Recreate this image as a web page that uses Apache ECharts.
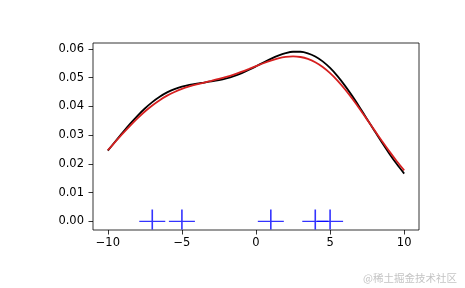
<!DOCTYPE html>
<html><head><meta charset="utf-8">
<script src="https://cdn.jsdelivr.net/npm/echarts@6/dist/echarts.min.js"></script>
<style>html,body{margin:0;padding:0;background:#fff}#c{width:465px;height:288px}</style>
</head><body><div id="c"></div>
<script>
// x positions of curve samples
const xs = [-10,-9.5,-9,-8.5,-8,-7.5,-7,-6.5,-6,-5.5,-5,-4.5,-4,-3.5,-3,-2.5,-2,-1.5,-1,-0.5,0,0.5,1,1.5,2,2.5,3,3.5,4,4.5,5,5.5,6,6.5,7,7.5,8,8.5,9,9.5,10];
// black curve values
const blackY = [0.02463,0.02780,0.03092,0.03393,0.03675,0.03929,0.04151,0.04338,0.04488,0.04604,0.04689,0.04750,0.04795,0.04831,0.04869,0.04915,0.04976,0.05054,0.05152,0.05268,0.05395,0.05528,0.05656,0.05768,0.05853,0.05901,0.05902,0.05849,0.05738,0.05567,0.05338,0.05055,0.04725,0.04359,0.03966,0.03558,0.03148,0.02744,0.02358,0.01996,0.01665];
// red curve values
const redY = [0.02476,0.02766,0.03052,0.03327,0.03585,0.03823,0.04035,0.04219,0.04375,0.04504,0.04609,0.04694,0.04766,0.04829,0.04891,0.04955,0.05027,0.05108,0.05199,0.05298,0.05401,0.05503,0.05596,0.05672,0.05723,0.05741,0.05719,0.05652,0.05536,0.05370,0.05156,0.04896,0.04597,0.04266,0.03912,0.03542,0.03168,0.02797,0.02437,0.02096,0.01779];
// sample points shown as + markers at y=0
const pts = [-7,-5,1,4,5];
const xTicks = [-10,-5,0,5,10];
const yTicks = [0,0.01,0.02,0.03,0.04,0.05,0.06];

const zip = (a,b)=>a.map((v,i)=>[v,b[i]]);
const font = 'DejaVu Sans';
const chart = echarts.init(document.getElementById('c'));
chart.setOption({
  animation:false,
  backgroundColor:'#fff',
  grid:{left:93,right:46,top:43,bottom:58,show:true,borderColor:'#000',borderWidth:0.8,backgroundColor:'transparent'},
  xAxis:{type:'value',min:-11,max:11,
    axisLine:{show:false,onZero:false},splitLine:{show:false},
    axisTick:{show:true,inside:false,length:4.5,lineStyle:{color:'#000',width:0.8},customValues:xTicks},
    axisLabel:{color:'#000',fontFamily:font,fontSize:11.5,margin:7,customValues:xTicks,
      formatter:v=>String(v).replace('-','\u2212')}},
  yAxis:{type:'value',min:-0.00296,max:0.06206,
    axisLine:{show:false,onZero:false},splitLine:{show:false},
    axisTick:{show:true,inside:false,length:4.5,lineStyle:{color:'#000',width:0.8},customValues:yTicks},
    axisLabel:{color:'#000',fontFamily:font,fontSize:11.5,margin:9,customValues:yTicks,
      formatter:v=>v.toFixed(2)}},
  series:[
    {type:'line',data:zip(xs,blackY),smooth:0.3,showSymbol:false,lineStyle:{color:'#000',width:1.8},z:2},
    {type:'line',data:zip(xs,redY),smooth:0.3,showSymbol:false,lineStyle:{color:'#d62020',width:1.8},z:3},
    {type:'scatter',data:pts.map(p=>[p,0]),
      symbol:'path://M0,12 L26,12 M13,0 L13,20',symbolSize:[26,20],symbolOffset:[0,-2],
      itemStyle:{color:'none',borderColor:'#0000ff',borderWidth:1.4},z:4}
  ],
  graphic:[{type:'text',right:8,bottom:5,style:{text:'@稀土掘金技术社区',fill:'#c4c4c4',font:'10.5px "Noto Sans CJK SC"'}}]
});
</script></body></html>
